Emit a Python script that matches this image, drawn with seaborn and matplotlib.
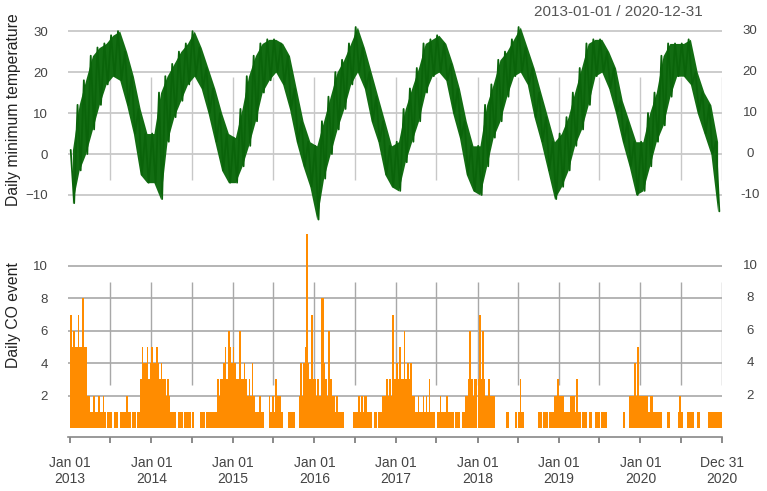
import pandas as pd
import matplotlib
matplotlib.use("Agg")
import matplotlib.pyplot as plt
import matplotlib.dates as mdates
import matplotlib.transforms as mtransforms
import seaborn as sns

# monthly lower / upper envelope of the daily minimum temperature, Jan 2013 .. Dec 2020
temp_low = [
    -12, -4, 0, 6, 12, 17, 19, 18, 12, 5, -5, -7,
    -7, -11, 3, 9, 13, 17, 19, 16, 10, 3, -4, -7,
    -7, -3, 2, 8, 15, 18, 20, 17, 11, 3, -3, -8,
    -16, -6, 0, 6, 11, 17, 20, 16, 8, 3, -5, -8,
    -9, -2, 3, 8, 15, 19, 20, 18, 10, 4, -5, -9,
    -10, -3, 4, 8, 14, 19, 20, 17, 9, 3, -4, -11,
    -8, -4, 2, 6, 12, 19, 20, 16, 10, 3, -3, -10,
    -9, -3, 3, 7, 14, 19, 19, 17, 10, 5, 0, -14,
]
temp_high = [
    1, 12, 18, 24, 26, 27, 29, 30, 25, 19, 11, 5,
    5, 15, 19, 22, 25, 27, 30, 26, 21, 16, 10, 5,
    4, 11, 19, 24, 27, 28, 28, 27, 24, 16, 8, 3,
    2, 8, 14, 20, 23, 27, 31, 26, 20, 14, 8, 2,
    3, 11, 16, 21, 27, 28, 29, 27, 22, 16, 8, 2,
    2, 12, 17, 23, 25, 28, 31, 26, 21, 15, 9, 3,
    5, 9, 15, 21, 27, 28, 28, 25, 21, 13, 8, 3,
    3, 10, 15, 24, 27, 27, 27, 28, 20, 15, 12, 3,
]

# weekly CO event counts (52 weeks per year)
co_2013 = [7, 5, 6, 5, 5, 7, 5, 5, 8, 5, 5, 2, 2, 1, 1, 2, 1, 1, 2, 1, 1, 2, 1,
           0, 1, 1, 1, 0, 1, 1, 1, 0, 1, 1, 1, 1, 2, 1, 1, 0, 1, 1, 0, 1, 1,
           3, 5, 4, 4, 5, 3, 4]
co_2014 = [5, 4, 4, 5, 4, 3, 4, 3, 3, 2, 3, 2, 1, 1, 1, 1, 0, 1, 1, 1, 0, 1, 1,
           1, 1, 0, 1, 0, 0, 0, 0, 1, 1, 1, 0, 1, 1, 1, 1, 1, 1, 1,
           3, 2, 3, 3, 4, 5, 3, 6, 5, 4]
co_2015 = [5, 4, 3, 3, 6, 3, 3, 4, 3, 2, 3, 2, 4, 2, 1, 1, 1, 2, 1, 1, 0, 0, 0,
           2, 1, 2, 1, 3, 2, 2, 2, 1, 0, 0, 0, 1, 1, 1, 1, 1, 0, 0, 2, 4,
           2, 4, 5, 12, 4, 3, 7, 3]
co_2016 = [3, 2, 3, 2, 8, 8, 4, 3, 2, 6, 3, 2, 2, 1, 2, 1, 1, 1, 1, 0, 0, 0, 0,
           0, 0, 1, 1, 1, 2, 1, 2, 1, 2, 2, 1, 1, 1, 0, 1, 1, 0, 1, 1,
           2, 2, 2, 3, 2, 3, 2, 7, 3]
co_2017 = [4, 3, 5, 3, 3, 6, 3, 4, 3, 4, 2, 2, 1, 1, 2, 1, 1, 2, 1, 2, 1, 3, 1,
           1, 1, 0, 1, 1, 2, 1, 1, 1, 2, 1, 1, 1, 1, 0, 1, 1, 1, 0, 1, 1, 2,
           2, 3, 6, 3, 2, 3, 3]
co_2018 = [3, 7, 3, 6, 3, 2, 2, 3, 2, 2, 2, 0, 0, 0, 0, 0, 0, 0, 1, 1, 0, 0, 0,
           0, 1, 0, 1, 3, 1, 1, 0, 0, 0, 0, 0, 0, 0, 0, 0, 1, 1, 0, 1, 1, 1,
           0, 1, 1, 1, 2, 2, 3]
co_2019 = [2, 2, 2, 1, 1, 1, 1, 2, 2, 2, 1, 3, 1, 1, 0, 1, 1, 1, 0, 1, 1, 0, 0,
           1, 1, 1, 0, 1, 1, 1, 1, 0, 0, 0, 0, 0, 0, 0, 0, 0, 0, 1, 0, 0, 0,
           2, 2, 2, 4, 2, 5, 2]
co_2020 = [2, 2, 2, 2, 2, 1, 2, 2, 1, 1, 1, 1, 1, 1, 0, 0, 0, 1, 1, 0, 0, 0, 0,
           0, 1, 2, 1, 0, 0, 0, 1, 1, 1, 1, 0, 0, 1, 1, 0, 0, 0, 0, 0,
           1, 1, 1, 1, 1, 1, 1, 1, 1]
co_years = [co_2013, co_2014, co_2015, co_2016, co_2017, co_2018, co_2019, co_2020]
years = list(range(2013, 2021))

start = pd.Timestamp("2013-01-01")
end = pd.Timestamp("2020-12-31")

# zigzag through the monthly envelope: high early in the month, low later
rows = []
mids = []
for i, (lo, hi) in enumerate(zip(temp_low, temp_high)):
    m0 = start + pd.DateOffset(months=i)
    ndays = (m0 + pd.DateOffset(months=1) - m0).days
    rows.append((m0 + pd.Timedelta(days=0.1 * ndays), hi))
    rows.append((m0 + pd.Timedelta(days=0.6 * ndays), lo))
    mids.append(m0 + pd.Timedelta(days=0.35 * ndays))
temp = pd.DataFrame(rows, columns=["date", "tmin"])
band = pd.DataFrame({"date": mids, "low": temp_low, "high": temp_high})

co_dates, co_vals = [], []
for y, vals in zip(years, co_years):
    for w, v in enumerate(vals):
        co_dates.append(pd.Timestamp(y, 1, 1) + pd.Timedelta(days=7 * w + 3.5))
        co_vals.append(v)
co = pd.DataFrame({"date": co_dates, "events": co_vals})

sns.set_style("white")
plt.rcParams["font.family"] = ["Liberation Sans", "DejaVu Sans"]

W, H = 767, 491
fig = plt.figure(figsize=(W / 100, H / 100), dpi=100)

def ax_at(x0, x1, ytop, ybot):
    return fig.add_axes([x0 / W, (H - ybot) / H, (x1 - x0) / W, (ybot - ytop) / H])

ax1 = ax_at(68, 722, 25, 222)
ax2 = ax_at(68, 722, 230, 437)

px_day = 652 / (end - start).days
xmin = mdates.date2num(start) - 2 / px_day
xmax = mdates.date2num(end) + 0.5

ticks = []
for y in years:
    ticks.append(pd.Timestamp(y, 1, 1))
    ticks.append(pd.Timestamp(y, 7, 1))
ticks.append(end)
tick_labels = []
for t in ticks:
    if t == end:
        tick_labels.append("Dec 31\n2020")
    elif t.month == 1:
        tick_labels.append("Jan 01\n%d" % t.year)
    else:
        tick_labels.append("")

txt = "#444444"
grid_top = "#c8c8c8"
grid_bot = "#a8a8a8"
green = "#0a640a"

# top panel: temperature
for v in [-10, 0, 10, 20, 30]:
    ax1.axhline(v, color=grid_top, lw=1.3, zorder=0)
ax1.vlines(ticks[1:], -6.3, 18.8, color=grid_top, lw=1.0, zorder=0)
ax1.fill_between(band["date"], band["low"], band["high"], color="#126d12",
                 lw=0, zorder=1)
sns.lineplot(data=temp, x="date", y="tmin", ax=ax1, color=green,
             lw=1.3, estimator=None, sort=False, zorder=2)
ax1.set_xlim(xmin, xmax)
ax1.set_ylim(-16.6, 31.5)
ax1.set_xticks([])
ax1.set_xlabel("")
ax1.set_ylabel("")

# bottom panel: CO events
for v in [2, 4, 6, 8, 10]:
    ax2.axhline(v, color=grid_bot, lw=1.2, zorder=0)
ax2.vlines(ticks[1:], 2.65, 9.0, color=grid_bot, lw=1.0, zorder=0)
ax2.bar(co["date"], co["events"], width=7, color="#ff8c00", lw=0, zorder=2)
ax2.set_xlim(xmin, xmax)
ax2.set_ylim(-0.556, 12.22)
ax2.set_xticks(ticks)
ax2.set_xticklabels(tick_labels)
ax2.set_ylabel("")

for ax, yt in [(ax1, [-10, 0, 10, 20, 30]), (ax2, [2, 4, 6, 8, 10])]:
    ax.set_yticks(yt)
    ax.tick_params(axis="y", length=0, labelsize=9.5, labelcolor=txt, pad=14.4)
    for s in ax.spines.values():
        s.set_visible(False)
    # right-hand labels, centred like the original
    tr = mtransforms.blended_transform_factory(ax.transAxes, ax.transData)
    for v in yt:
        ax.text(1 + 28 / 654, v, str(v), transform=tr, ha="center", va="center",
                fontsize=9.5, color=txt)

ax2.spines["bottom"].set_visible(True)
ax2.spines["bottom"].set_color("#888888")
ax2.spines["bottom"].set_linewidth(1.2)
ax2.tick_params(axis="x", direction="out", length=4.5, width=1.2, color="#777777",
                labelsize=10, labelcolor=txt, pad=9, bottom=True)

fig.text(14 / W, (H - 110) / H, "Daily minimum temperature", rotation=90,
         ha="center", va="center", fontsize=11.3, color="#222222")
fig.text(14 / W, (H - 315) / H, "Daily CO event", rotation=90,
         ha="center", va="center", fontsize=11.3, color="#222222")
fig.text(618 / W, (H - 12) / H, "2013-01-01 / 2020-12-31", ha="center",
         va="center", fontsize=11, color="#555555")

fig.savefig("out.png", dpi=100)
